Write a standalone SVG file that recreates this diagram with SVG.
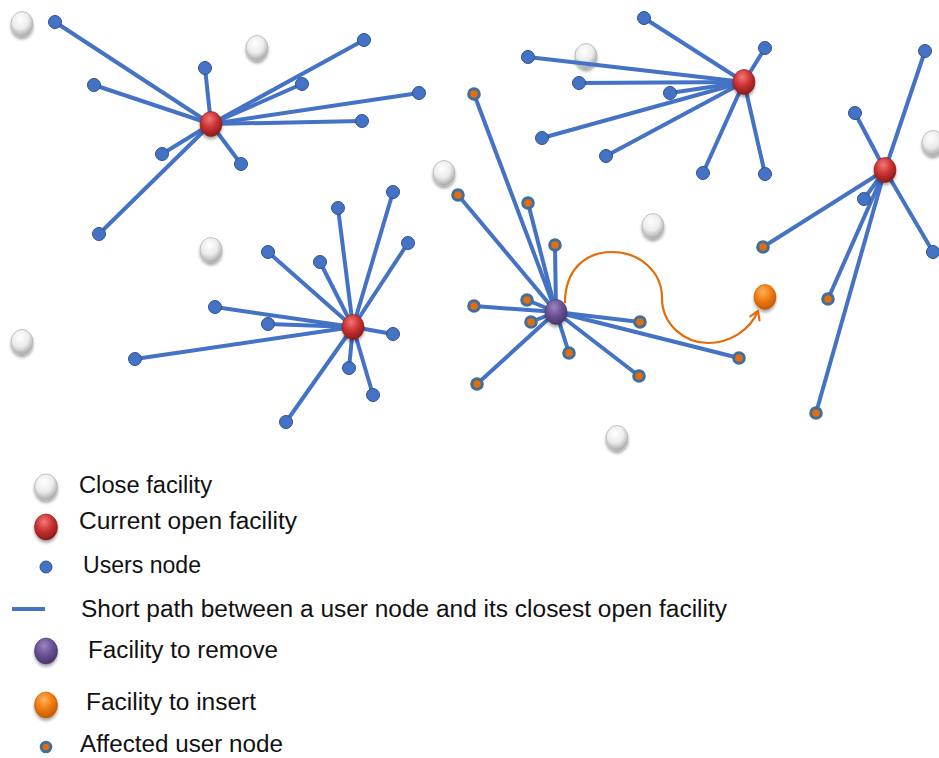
<svg xmlns="http://www.w3.org/2000/svg" width="939" height="758" viewBox="0 0 939 758">
  <defs>
    <radialGradient id="gClose" cx="42%" cy="32%" r="68%">
      <stop offset="0" stop-color="#ffffff"/>
      <stop offset="0.55" stop-color="#ececec"/>
      <stop offset="1" stop-color="#a9a9a9"/>
    </radialGradient>
    <radialGradient id="gRed" cx="42%" cy="30%" r="70%">
      <stop offset="0" stop-color="#f27878"/>
      <stop offset="0.5" stop-color="#cc3434"/>
      <stop offset="1" stop-color="#8c1a1a"/>
    </radialGradient>
    <radialGradient id="gPurple" cx="42%" cy="30%" r="70%">
      <stop offset="0" stop-color="#9b86bd"/>
      <stop offset="0.5" stop-color="#6a5496"/>
      <stop offset="1" stop-color="#47376a"/>
    </radialGradient>
    <radialGradient id="gOrange" cx="42%" cy="30%" r="70%">
      <stop offset="0" stop-color="#ffb35e"/>
      <stop offset="0.5" stop-color="#f27d12"/>
      <stop offset="1" stop-color="#c25a00"/>
    </radialGradient>
    <filter id="shadow" x="-50%" y="-50%" width="200%" height="220%">
      <feDropShadow dx="0" dy="2.5" stdDeviation="1.6" flood-color="#000" flood-opacity="0.35"/>
    </filter>
    <marker id="chevron" markerUnits="userSpaceOnUse" markerWidth="14" markerHeight="14" viewBox="-10 -7 12 14" refX="0" refY="0" orient="auto">
      <path d="M-8,-5 L0,0 L-8,5" fill="none" stroke="#e46c0a" stroke-width="2.2" stroke-linecap="round" stroke-linejoin="round"/>
    </marker>
  </defs>
  <style>
    .close { fill: url(#gClose); stroke: #b5b5b5; stroke-width: 0.8; filter: url(#shadow); }
    .open { fill: url(#gRed); stroke: #8c1a1a; stroke-width: 0.6; filter: url(#shadow); }
    .remove { fill: url(#gPurple); stroke: #47376a; stroke-width: 0.6; filter: url(#shadow); }
    .insert { fill: url(#gOrange); stroke: #c25a00; stroke-width: 0.6; filter: url(#shadow); }
    .user { fill: #4472c4; stroke: #2f528f; stroke-width: 1; }
    .affected { fill: #e46c0a; stroke: #3f6f9c; stroke-width: 3; }
    .link { stroke: #4472c4; stroke-width: 4; fill: none; }
    .move { stroke: #e46c0a; stroke-width: 2.2; fill: none; }
    .label { font-family: "Liberation Sans", Arial, sans-serif; font-size: 23.5px; fill: #111; }
  </style>

  <rect width="939" height="758" fill="#ffffff"/>

  <!-- closed facilities -->
  <g id="closed-facilities">
    <ellipse id="cf1" class="close" cx="22" cy="24" rx="11" ry="12.5"/>
    <ellipse id="cf2" class="close" cx="257" cy="48" rx="11" ry="12.5"/>
    <ellipse id="cf3" class="close" cx="586" cy="56" rx="11" ry="12.5"/>
    <ellipse id="cf4" class="close" cx="444" cy="173" rx="11" ry="12.5"/>
    <ellipse id="cf5" class="close" cx="653" cy="226" rx="11" ry="12.5"/>
    <ellipse id="cf6" class="close" cx="933" cy="143" rx="11" ry="12.5"/>
    <ellipse id="cf7" class="close" cx="211" cy="250" rx="11" ry="12.5"/>
    <ellipse id="cf8" class="close" cx="22" cy="342" rx="11" ry="12.5"/>
    <ellipse id="cf9" class="close" cx="617" cy="438" rx="11" ry="12.5"/>
  </g>

  <!-- shortest paths from users to their facility -->
  <g id="connectors" class="link">
    <!-- facility A (211,124) -->
    <line x1="211" y1="124" x2="55" y2="22"/>
    <line x1="211" y1="124" x2="94" y2="85"/>
    <line x1="211" y1="124" x2="205" y2="68"/>
    <line x1="211" y1="124" x2="364" y2="40"/>
    <line x1="211" y1="124" x2="302" y2="84"/>
    <line x1="211" y1="124" x2="419" y2="93"/>
    <line x1="211" y1="124" x2="362" y2="121"/>
    <line x1="211" y1="124" x2="162" y2="154"/>
    <line x1="211" y1="124" x2="241" y2="164"/>
    <line x1="211" y1="124" x2="99" y2="234"/>
    <!-- facility B (744,82) -->
    <line x1="744" y1="82" x2="644" y2="18"/>
    <line x1="744" y1="82" x2="528" y2="57"/>
    <line x1="744" y1="82" x2="579" y2="83"/>
    <line x1="744" y1="82" x2="670" y2="93"/>
    <line x1="744" y1="82" x2="542" y2="138"/>
    <line x1="744" y1="82" x2="606" y2="156"/>
    <line x1="744" y1="82" x2="765" y2="48"/>
    <line x1="744" y1="82" x2="703" y2="173"/>
    <line x1="744" y1="82" x2="765" y2="174"/>
    <!-- facility C (885,170) -->
    <line x1="885" y1="170" x2="855" y2="113"/>
    <line x1="885" y1="170" x2="925" y2="51"/>
    <line x1="885" y1="170" x2="864" y2="199"/>
    <line x1="885" y1="170" x2="933" y2="252"/>
    <line x1="885" y1="170" x2="763" y2="247"/>
    <line x1="885" y1="170" x2="828" y2="299"/>
    <line x1="885" y1="170" x2="816" y2="413"/>
    <!-- facility F (353,327) -->
    <line x1="353" y1="327" x2="393" y2="192"/>
    <line x1="353" y1="327" x2="338" y2="208"/>
    <line x1="353" y1="327" x2="408" y2="243"/>
    <line x1="353" y1="327" x2="268" y2="252"/>
    <line x1="353" y1="327" x2="320" y2="262"/>
    <line x1="353" y1="327" x2="215" y2="307"/>
    <line x1="353" y1="327" x2="268" y2="324"/>
    <line x1="353" y1="327" x2="135" y2="359"/>
    <line x1="353" y1="327" x2="393" y2="334"/>
    <line x1="353" y1="327" x2="349" y2="368"/>
    <line x1="353" y1="327" x2="373" y2="395"/>
    <line x1="353" y1="327" x2="286" y2="422"/>
    <!-- facility D (556,312), to be removed -->
    <line x1="556" y1="312" x2="474" y2="94"/>
    <line x1="556" y1="312" x2="458" y2="195"/>
    <line x1="556" y1="312" x2="528" y2="203"/>
    <line x1="556" y1="312" x2="555" y2="245"/>
    <line x1="556" y1="312" x2="474" y2="306"/>
    <line x1="556" y1="312" x2="527" y2="300"/>
    <line x1="556" y1="312" x2="531" y2="322"/>
    <line x1="556" y1="312" x2="640" y2="322"/>
    <line x1="556" y1="312" x2="569" y2="353"/>
    <line x1="556" y1="312" x2="639" y2="376"/>
    <line x1="556" y1="312" x2="739" y2="358"/>
    <line x1="556" y1="312" x2="477" y2="384"/>
  </g>

  <!-- user nodes -->
  <g id="users">
    <circle id="u-a1" class="user" cx="55" cy="22" r="6.5"/>
    <circle id="u-a2" class="user" cx="94" cy="85" r="6.5"/>
    <circle id="u-a3" class="user" cx="205" cy="68" r="6.5"/>
    <circle id="u-a4" class="user" cx="364" cy="40" r="6.5"/>
    <circle id="u-a5" class="user" cx="302" cy="84" r="6.5"/>
    <circle id="u-a6" class="user" cx="419" cy="93" r="6.5"/>
    <circle id="u-a7" class="user" cx="362" cy="121" r="6.5"/>
    <circle id="u-a8" class="user" cx="162" cy="154" r="6.5"/>
    <circle id="u-a9" class="user" cx="241" cy="164" r="6.5"/>
    <circle id="u-a10" class="user" cx="99" cy="234" r="6.5"/>

    <circle id="u-b1" class="user" cx="644" cy="18" r="6.5"/>
    <circle id="u-b2" class="user" cx="528" cy="57" r="6.5"/>
    <circle id="u-b3" class="user" cx="579" cy="83" r="6.5"/>
    <circle id="u-b4" class="user" cx="670" cy="93" r="6.5"/>
    <circle id="u-b5" class="user" cx="542" cy="138" r="6.5"/>
    <circle id="u-b6" class="user" cx="606" cy="156" r="6.5"/>
    <circle id="u-b7" class="user" cx="765" cy="48" r="6.5"/>
    <circle id="u-b8" class="user" cx="703" cy="173" r="6.5"/>
    <circle id="u-b9" class="user" cx="765" cy="174" r="6.5"/>

    <circle id="u-c1" class="user" cx="855" cy="113" r="6.5"/>
    <circle id="u-c2" class="user" cx="925" cy="51" r="6.5"/>
    <circle id="u-c3" class="user" cx="864" cy="199" r="6.5"/>
    <circle id="u-c4" class="user" cx="933" cy="252" r="6.5"/>

    <circle id="u-f1" class="user" cx="393" cy="192" r="6.5"/>
    <circle id="u-f2" class="user" cx="338" cy="208" r="6.5"/>
    <circle id="u-f3" class="user" cx="408" cy="243" r="6.5"/>
    <circle id="u-f4" class="user" cx="268" cy="252" r="6.5"/>
    <circle id="u-f5" class="user" cx="320" cy="262" r="6.5"/>
    <circle id="u-f6" class="user" cx="215" cy="307" r="6.5"/>
    <circle id="u-f7" class="user" cx="268" cy="324" r="6.5"/>
    <circle id="u-f8" class="user" cx="135" cy="359" r="6.5"/>
    <circle id="u-f9" class="user" cx="393" cy="334" r="6.5"/>
    <circle id="u-f10" class="user" cx="349" cy="368" r="6.5"/>
    <circle id="u-f11" class="user" cx="373" cy="395" r="6.5"/>
    <circle id="u-f12" class="user" cx="286" cy="422" r="6.5"/>
  </g>

  <!-- users whose closest facility changes -->
  <g id="affected-users">
    <circle id="x-d1" class="affected" cx="474" cy="94" r="5.3"/>
    <circle id="x-d2" class="affected" cx="458" cy="195" r="5.3"/>
    <circle id="x-d3" class="affected" cx="528" cy="203" r="5.3"/>
    <circle id="x-d4" class="affected" cx="555" cy="245" r="5.3"/>
    <circle id="x-d5" class="affected" cx="474" cy="306" r="5.3"/>
    <circle id="x-d6" class="affected" cx="527" cy="300" r="5.3"/>
    <circle id="x-d7" class="affected" cx="531" cy="322" r="5.3"/>
    <circle id="x-d8" class="affected" cx="640" cy="322" r="5.3"/>
    <circle id="x-d9" class="affected" cx="569" cy="353" r="5.3"/>
    <circle id="x-d10" class="affected" cx="639" cy="376" r="5.3"/>
    <circle id="x-d11" class="affected" cx="739" cy="358" r="5.3"/>
    <circle id="x-d12" class="affected" cx="477" cy="384" r="5.3"/>
    <circle id="x-c1" class="affected" cx="763" cy="247" r="5.3"/>
    <circle id="x-c2" class="affected" cx="828" cy="299" r="5.3"/>
    <circle id="x-c3" class="affected" cx="816" cy="413" r="5.3"/>
  </g>

  <!-- swap move: remove D, insert E -->
  <g id="swap-arrow">
    <path class="move" d="M565,303 C565,270 585,252 612,252 C640,252 662,272 662,298 C662,325 685,343 708,343 C730,343 750,330 758,311" marker-end="url(#chevron)"/>
  </g>

  <!-- facilities -->
  <g id="facility-a"><ellipse class="open" cx="211" cy="124" rx="11" ry="12.5"/></g>
  <g id="facility-b"><ellipse class="open" cx="744" cy="82" rx="11" ry="12.5"/></g>
  <g id="facility-c"><ellipse class="open" cx="885" cy="170" rx="11" ry="12.5"/></g>
  <g id="facility-f"><ellipse class="open" cx="353" cy="327" rx="11" ry="12.5"/></g>
  <g id="facility-d"><ellipse class="remove" cx="556" cy="312" rx="11" ry="12.5"/></g>
  <g id="facility-e"><ellipse class="insert" cx="765" cy="297" rx="11" ry="12.5"/></g>

  <!-- legend -->
  <g id="legend">
    <g id="legend-close">
      <ellipse class="close" cx="46" cy="487" rx="11.5" ry="13"/>
      <text class="label" x="79" y="493" textLength="133" lengthAdjust="spacingAndGlyphs">Close facility</text>
    </g>
    <g id="legend-open">
      <ellipse class="open" cx="46" cy="527" rx="11.5" ry="13"/>
      <text class="label" x="79" y="529" textLength="218" lengthAdjust="spacingAndGlyphs">Current open facility</text>
    </g>
    <g id="legend-user">
      <circle class="user" cx="46" cy="567" r="6"/>
      <text class="label" x="83" y="573" textLength="118" lengthAdjust="spacingAndGlyphs">Users node</text>
    </g>
    <g id="legend-path">
      <line class="link" x1="12" y1="609" x2="45" y2="609"/>
      <text class="label" x="81" y="617" textLength="646" lengthAdjust="spacingAndGlyphs">Short path between a user node and its closest open facility</text>
    </g>
    <g id="legend-remove">
      <ellipse class="remove" cx="46" cy="651" rx="11.5" ry="13"/>
      <text class="label" x="88" y="658" textLength="190" lengthAdjust="spacingAndGlyphs">Facility to remove</text>
    </g>
    <g id="legend-insert">
      <ellipse class="insert" cx="46" cy="705" rx="11.5" ry="13"/>
      <text class="label" x="86" y="710" textLength="170" lengthAdjust="spacingAndGlyphs">Facility to insert</text>
    </g>
    <g id="legend-affected">
      <circle class="affected" cx="46" cy="747" r="4.8"/>
      <text class="label" x="80" y="752" textLength="203" lengthAdjust="spacingAndGlyphs">Affected user node</text>
    </g>
  </g>
</svg>
